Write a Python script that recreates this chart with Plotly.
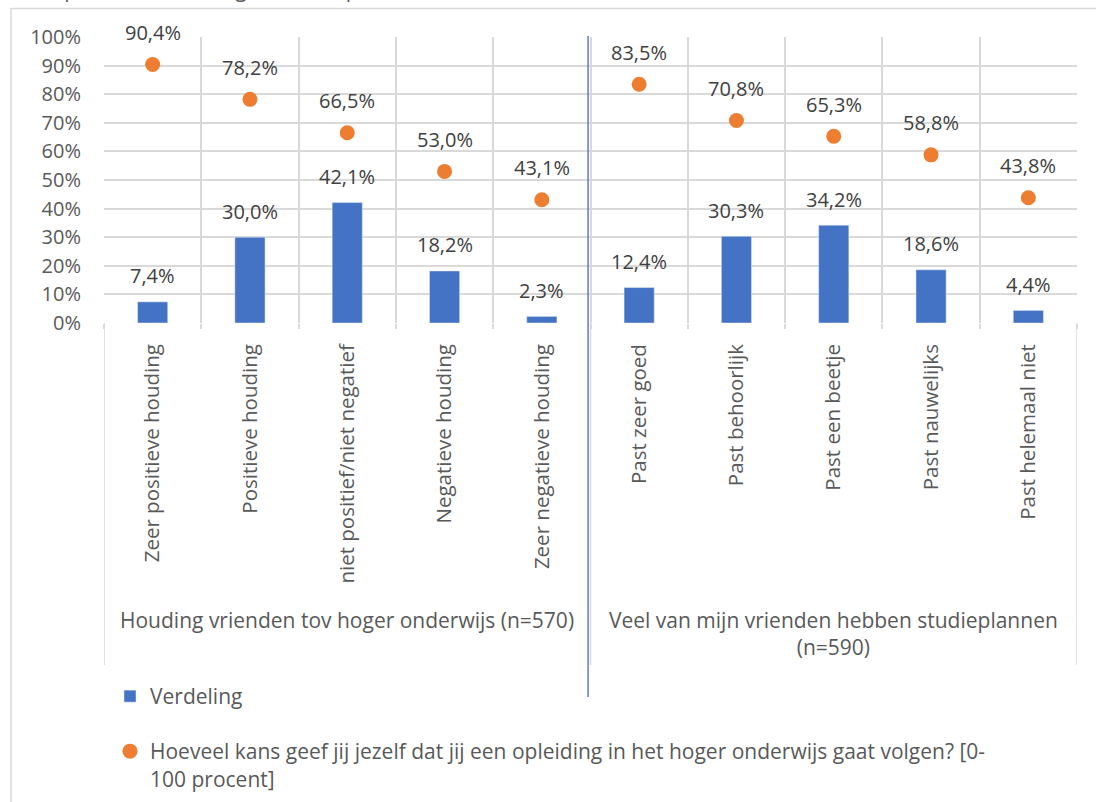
import plotly.graph_objects as go

categories = [
    "Zeer positieve houding", "Positieve houding", "niet positief/niet negatief",
    "Negatieve houding", "Zeer negatieve houding",
    "Past zeer goed", "Past behoorlijk", "Past een beetje", "Past nauwelijks",
    "Past helemaal niet",
]
groups = [
    "Houding vrienden tov hoger onderwijs (n=570)",
    "Veel van mijn vrienden hebben studieplannen<br>(n=590)",
]
verdeling = [7.4, 30.0, 42.1, 18.2, 2.3, 12.4, 30.3, 34.2, 18.6, 4.4]
kans = [90.4, 78.2, 66.5, 53.0, 43.1, 83.5, 70.8, 65.3, 58.8, 43.8]
y_ticks = list(range(0, 101, 10))
y_ticktext = [f"{v}%" for v in y_ticks]
title_text = "studieplannen (verdeling en kans op studeren)"
bar_name = "Verdeling"
dot_name = "Hoeveel kans geef jij jezelf dat jij een opleiding in het hoger onderwijs gaat volgen? [0-<br>100 procent]"

# plot-area pixel geometry
L, R, T, B = 104, 1077, 37, 323
W, H = 1096, 802
def px(xp):
    return (xp - L) / (R - L)
def py(yp):
    return (B - yp) / (B - T)

FONT = "Open Sans"
TXT = "#595959"
GRID = "#D9D9D9"
BLUE = "#4472C4"
ORANGE = "#ED7D31"

xc = [i + 0.5 for i in range(len(categories))]

fig = go.Figure()
fig.add_trace(go.Bar(
    x=xc, y=verdeling, name=bar_name, marker_color=BLUE, width=0.31,
    legend="legend", hoverinfo="skip",
))
fig.add_trace(go.Scatter(
    x=xc, y=kans, name=dot_name, mode="markers",
    marker=dict(color=ORANGE, size=15), legend="legend2", hoverinfo="skip",
))

def fmt(v):
    return f"{v:.1f}%".replace(".", ",")

annotations = []
for x, v in zip(xc, verdeling):
    annotations.append(dict(x=x, y=v, xref="x", yref="y", text=fmt(v), showarrow=False,
                            yanchor="middle", yshift=26, font=dict(family=FONT, size=20, color="#404040")))
for x, v in zip(xc, kans):
    annotations.append(dict(x=x, y=v, xref="x", yref="y", text=fmt(v), showarrow=False,
                            yanchor="middle", yshift=32, font=dict(family=FONT, size=20, color="#404040")))
# group labels
annotations.append(dict(x=2.5, y=py(604), xref="x", yref="paper", text=groups[0], showarrow=False,
                        yanchor="top", align="center", font=dict(family=FONT, size=21, color=TXT)))
annotations.append(dict(x=7.5, y=py(604), xref="x", yref="paper", text=groups[1], showarrow=False,
                        yanchor="top", align="center", font=dict(family=FONT, size=21, color=TXT)))
# title, clipped at the very top as in the source
annotations.append(dict(x=px(2), y=py(4.5), xref="paper", yref="paper", text=title_text, showarrow=False,
                        xanchor="left", yanchor="bottom", font=dict(family=FONT, size=21, color=TXT)))

shapes = []
# outer chart border (open on the right and bottom, as in the source crop)
shapes.append(dict(type="rect", xref="paper", yref="paper", x0=px(11), x1=px(1102), y0=py(808), y1=py(8.5),
                   line=dict(color=GRID, width=1.5), fillcolor="rgba(0,0,0,0)", layer="below"))
# long group dividers
for xv in [0, 5, 10]:
    shapes.append(dict(type="line", xref="x", yref="paper", x0=xv, x1=xv, y0=0, y1=py(665),
                       line=dict(color=GRID, width=1.5), layer="below"))
# blue separator line
shapes.append(dict(type="line", xref="x", yref="paper", x0=4.975, x1=4.975, y0=py(36), y1=py(697),
                   line=dict(color="#5B7FC7", width=1.5)))

fig.update_layout(
    width=W, height=H,
    margin=dict(l=L, r=W - R, t=T, b=H - B, autoexpand=False),
    paper_bgcolor="white", plot_bgcolor="white",
    font=dict(family=FONT, size=20, color=TXT),
    showlegend=True,
    legend=dict(x=px(110), y=py(676), xanchor="left", yanchor="top",
                font=dict(family=FONT, size=21, color=TXT), bgcolor="rgba(0,0,0,0)",
                itemwidth=30, valign="top"),
    legend2=dict(x=px(110), y=py(731), xanchor="left", yanchor="top",
                 font=dict(family=FONT, size=21, color=TXT), bgcolor="rgba(0,0,0,0)",
                 itemwidth=30, valign="top"),
    annotations=annotations,
    shapes=shapes,
    xaxis=dict(
        range=[0, 10], tickvals=xc, ticktext=categories, tickangle=-90,
        showgrid=False, zeroline=False, showline=False, ticks="",
        ticklabelstandoff=16,
        tickfont=dict(family=FONT, size=20.5, color=TXT),
        minor=dict(tickvals=list(range(0, 11)), showgrid=True, gridcolor=GRID, gridwidth=1.5,
                   ticks="outside", ticklen=5, tickcolor=GRID, tickwidth=1.5),
        fixedrange=True,
    ),
    yaxis=dict(
        range=[0, 100], tickvals=y_ticks, ticktext=y_ticktext,
        showgrid=True, gridcolor=GRID, gridwidth=1.5, zeroline=False, showline=False,
        ticks="", ticklabelstandoff=22,
        tickfont=dict(family=FONT, size=20, color=TXT),
        fixedrange=True,
    ),
)

fig.write_html("out.html", config={"displayModeBar": False},
               post_script="document.body.style.margin='0';document.body.style.overflow='hidden';")
